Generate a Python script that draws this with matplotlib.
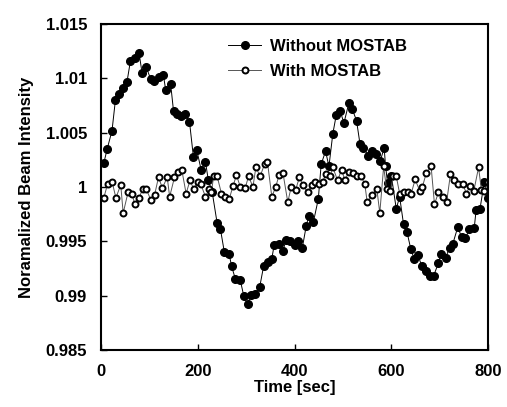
import matplotlib
matplotlib.use("Agg")
import matplotlib.pyplot as plt

# Without MOSTAB (filled markers)
t_without = [6, 13, 23, 30, 37, 46, 54, 61, 71, 79, 85, 94, 103, 110, 121, 129,
             134, 144, 150, 158, 166, 174, 183, 191, 198, 207, 216, 222, 230, 240,
             247, 255, 265, 270, 278, 288, 295, 303, 310, 318, 328, 336, 345, 353,
             358, 367, 376, 382, 390, 400, 407, 416, 424, 429, 439, 449, 455, 464,
             471, 479, 486, 494, 502, 512, 519, 528, 535, 542, 552, 560, 568, 577,
             585, 588, 592, 600, 610, 617, 625, 632, 640, 647, 655, 663, 672, 679,
             687, 697, 702, 712, 720, 727, 737, 745, 753, 761, 771, 775, 783, 792, 800]
y_without = [1.0022, 1.0035, 1.0052, 1.0080, 1.0086, 1.0091, 1.0097, 1.0116, 1.0119,
             1.0123, 1.0105, 1.0110, 1.0099, 1.0098, 1.0101, 1.0103, 1.0089, 1.0095,
             1.0070, 1.0067, 1.0065, 1.0067, 1.0060, 1.0028, 1.0034, 1.0016, 1.0023,
             1.0006, 0.9995, 0.9967, 0.9961, 0.9940, 0.9938, 0.9927, 0.9915, 0.9914,
             0.9900, 0.9892, 0.9901, 0.9902, 0.9908, 0.9927, 0.9931, 0.9934, 0.9947,
             0.9948, 0.9941, 0.9951, 0.9950, 0.9947, 0.9950, 0.9944, 0.9964, 0.9973,
             0.9968, 0.9989, 1.0021, 1.0033, 1.0019, 1.0049, 1.0066, 1.0070, 1.0059,
             1.0077, 1.0072, 1.0061, 1.0040, 1.0036, 1.0029, 1.0033, 1.0030, 1.0024,
             1.0036, 1.0019, 1.0004, 1.0010, 0.9980, 0.9991, 0.9966, 0.9959, 0.9943,
             0.9934, 0.9937, 0.9927, 0.9923, 0.9918, 0.9918, 0.9930, 0.9938, 0.9935,
             0.9944, 0.9948, 0.9963, 0.9954, 0.9953, 0.9961, 0.9962, 0.9979, 0.9980,
             1.0005, 0.9990]

# With MOSTAB (open markers)
t_with = [6, 14, 23, 31, 41, 46, 56, 64, 70, 79, 86, 94, 103, 111, 119, 127, 137,
          142, 152, 159, 167, 176, 184, 192, 200, 206, 216, 224, 228, 233, 240, 249,
          257, 265, 273, 280, 288, 298, 305, 314, 320, 329, 338, 344, 353, 361, 368,
          376, 386, 393, 402, 410, 417, 427, 435, 442, 450, 458, 465, 473, 479, 489,
          497, 504, 512, 520, 528, 537, 545, 550, 560, 570, 576, 584, 590, 598, 604,
          610, 617, 626, 634, 641, 649, 659, 664, 672, 682, 689, 697, 706, 714, 722,
          730, 737, 747, 755, 762, 770, 780, 786, 792, 800]
y_with = [0.9990, 1.0003, 1.0005, 0.9990, 1.0002, 0.9976, 0.9995, 0.9994, 0.9984,
          0.9990, 0.9998, 0.9998, 0.9988, 0.9993, 1.0009, 0.9999, 1.0009, 0.9991,
          1.0009, 1.0014, 1.0016, 0.9994, 1.0006, 0.9998, 1.0005, 1.0003, 0.9991,
          0.9998, 0.9995, 1.0010, 1.0010, 0.9994, 0.9991, 0.9989, 1.0001, 1.0011,
          1.0000, 0.9999, 1.0010, 1.0000, 1.0018, 1.0010, 1.0021, 1.0023, 0.9991,
          1.0000, 1.0011, 1.0013, 0.9986, 1.0000, 0.9997, 1.0009, 1.0002, 0.9995,
          1.0002, 1.0005, 1.0003, 1.0005, 1.0012, 1.0010, 1.0018, 1.0006, 1.0016,
          1.0006, 1.0014, 1.0013, 1.0010, 1.0010, 1.0003, 0.9986, 0.9993, 0.9998,
          0.9976, 1.0019, 0.9998, 0.9996, 1.0010, 1.0010, 0.9994, 0.9995, 0.9995,
          0.9994, 1.0007, 0.9996, 1.0000, 1.0013, 1.0019, 0.9984, 0.9995, 0.9991,
          0.9986, 1.0012, 1.0006, 1.0003, 1.0003, 0.9994, 1.0001, 0.9996, 1.0018,
          0.9997, 0.9996, 1.0005]

x_ticks = [0, 200, 400, 600, 800]
y_ticks = [0.985, 0.99, 0.995, 1.0, 1.005, 1.01, 1.015]
y_tick_labels = ["0.985", "0.99", "0.995", "1", "1.005", "1.01", "1.015"]

plt.rcParams["font.family"] = ["Liberation Sans", "DejaVu Sans"]
plt.rcParams["font.weight"] = "bold"

fig = plt.figure(figsize=(5.07, 4.07), dpi=100)
ax = fig.add_axes([0.199, 0.140, 0.764, 0.801])

ax.plot(t_without, y_without, color="black", lw=0.7, marker="o", ms=5.5,
        mfc="black", mec="black", label="Without MOSTAB")
ax.plot(t_with, y_with, color="#555555", lw=0.7, marker="o", ms=4.3,
        mfc="white", mec="black", mew=1.4, label="With MOSTAB")

ax.set_xlim(0, 800)
ax.set_ylim(0.985, 1.015)
ax.set_xticks(x_ticks)
ax.set_yticks(y_ticks)
ax.set_yticklabels(y_tick_labels)
ax.tick_params(direction="in", length=4, width=1, labelsize=12, pad=10)
for s in ax.spines.values():
    s.set_linewidth(1.5)

ax.set_xlabel("Time [sec]", fontsize=12, fontweight="bold", labelpad=1)
ax.set_ylabel("Noramalized Beam Intensity", fontsize=12, fontweight="bold", labelpad=8)

leg = ax.legend(loc="upper left", bbox_to_anchor=(0.328, 0.955), frameon=False,
                fontsize=12, handlelength=2.0, handletextpad=0.5, labelspacing=0.6,
                borderpad=0, borderaxespad=0)

fig.savefig("out.png", dpi=100)
